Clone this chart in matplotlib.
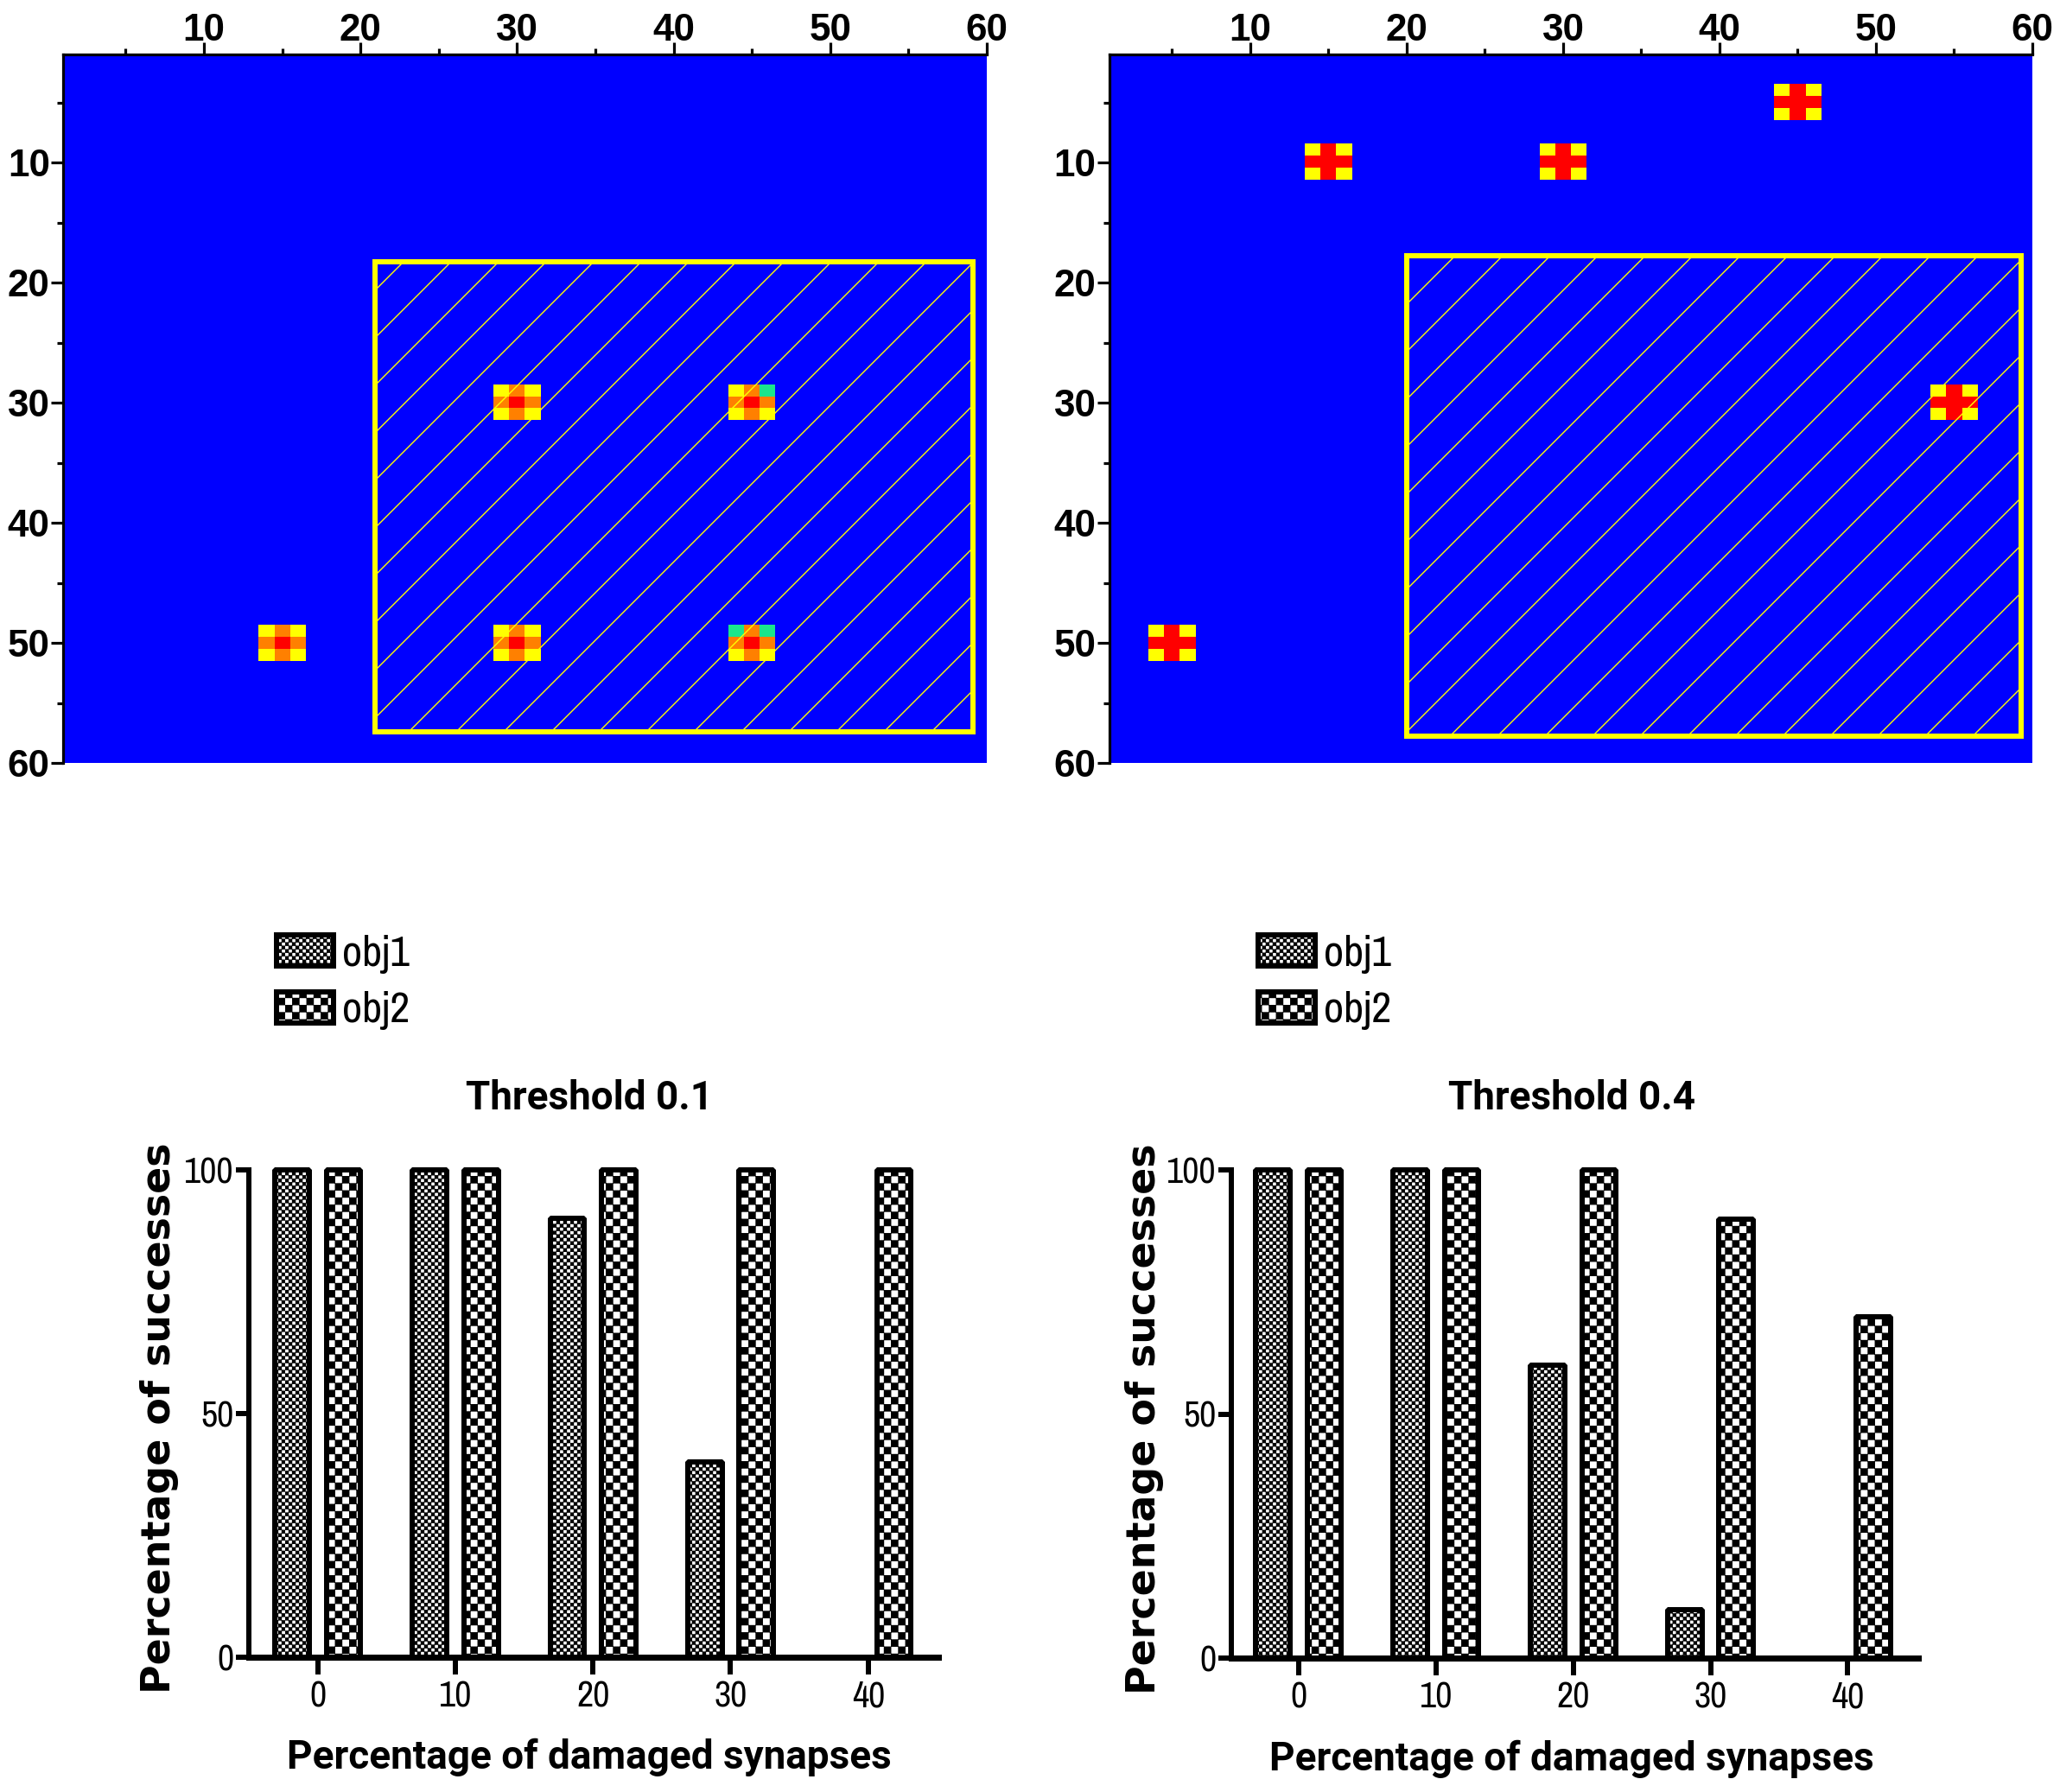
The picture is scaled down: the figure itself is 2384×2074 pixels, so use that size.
import numpy as np
import matplotlib
matplotlib.use('Agg')
import matplotlib.pyplot as plt
from matplotlib import hatch as mhatch
from matplotlib.colors import ListedColormap
from matplotlib.patches import Rectangle

# heat maps: (x, y) of the spots on the 60x60 grid
left_spots = [(15, 50), (30, 30), (45, 30), (30, 50), (45, 50)]
right_spots = [(45, 5), (15, 10), (30, 10), (55, 30), (5, 50)]
left_teal_cells = [(46, 29), (44, 49), (46, 49)]
left_rect = (20.9, 18.3, 59.1, 57.4)   # x0, y0, x1, y1
right_rect = (20.0, 17.8, 59.3, 57.8)

map_ticks = [10, 20, 30, 40, 50, 60]
map_minor = [5, 15, 25, 35, 45, 55]

# bar charts
damage = [0, 10, 20, 30, 40]
left_obj1 = [100, 100, 90, 40, 0]
left_obj2 = [100, 100, 100, 100, 100]
right_obj1 = [100, 100, 60, 10, 0]
right_obj2 = [100, 100, 100, 90, 70]
pct_ticks = [0, 50, 100]

W, H = 2384, 2074
DPI = 330   # hatch tile is one inch, '//' then gives the 55px line spacing
px = 72 / DPI

plt.rcParams['font.family'] = ['Liberation Sans', 'DejaVu Sans']
plt.rcParams['hatch.linewidth'] = 1.4 * px

narrow = dict(family=['Archivo Narrow', 'Roboto', 'Liberation Sans'], stretch='condensed')
narrow_bold = dict(family=['Roboto', 'Liberation Sans'], stretch='condensed', fontweight='bold')


class CheckerHatch(mhatch.HatchPatternBase):
    # 'o' = fine checker, 'O' = coarse checker
    def __init__(self, hatch, density):
        self.cells = hatch.count('o') * 82 + hatch.count('O') * 40
        self.num_vertices = 5 * sum((i + j) % 2 == 0 for i in range(self.cells) for j in range(self.cells))
        self.filled = True

    def set_vertices_and_codes(self, vertices, codes):
        if not self.cells:
            return
        s = 1.0 / self.cells
        d = 0.5 / DPI   # the hatch stroke grows each square a little
        k = 0
        for i in range(self.cells):
            for j in range(self.cells):
                if (i + j) % 2 == 0:
                    x, y = i * s, j * s
                    vertices[k:k + 5] = [(x + d, y + d), (x + s - d, y + d), (x + s - d, y + s - d),
                                         (x + d, y + s - d), (x + d, y + d)]
                    codes[k:k + 5] = [1, 2, 2, 2, 79]
                    k += 5


mhatch._hatch_types[:] = [mhatch.NorthEastHatch, CheckerHatch]


def px_axes(fig, l, t, r, b):
    return fig.add_axes([l / W, 1 - b / H, (r - l) / W, (b - t) / H])


def make_grid(spots, cross, teal=()):
    # 0 blue, 1 teal, 2 yellow, 3 orange, 4 red
    grid = np.zeros((60, 60), dtype=int)
    for x, y in spots:
        grid[y - 2:y + 1, x - 2:x + 1] = 2
        mid = 4 if cross else 3
        grid[y - 1, x - 2:x + 1] = mid
        grid[y - 2:y + 1, x - 1] = mid
        grid[y - 1, x - 1] = 4
    for x, y in teal:
        grid[y - 1, x - 1] = 1
    return grid


map_cmap = ListedColormap(['#0000ff', '#1ae68c', '#ffff00', '#ff8000', '#ff0000'])


def draw_map(ax, grid, rect):
    ax.imshow(grid, cmap=map_cmap, vmin=0, vmax=4, extent=(0.5, 60.5, 60.5, 0.5),
              aspect='auto', interpolation='nearest')
    ax.set_xlim(1, 60)
    ax.set_ylim(60, 1)
    x0, y0, x1, y1 = rect
    ax.add_patch(Rectangle((x0, y0), x1 - x0, y1 - y0, fill=False, edgecolor='#ffff00',
                           linewidth=6 * px, hatch='//', zorder=3))
    ax.xaxis.tick_top()
    ax.set_xticks(map_ticks)
    ax.set_yticks(map_ticks)
    ax.set_xticks(map_minor, minor=True)
    ax.set_yticks(map_minor, minor=True)
    ax.tick_params(which='major', length=14 * px, width=3.2 * px, labelsize=9.6)
    ax.tick_params(which='minor', length=7 * px, width=3.2 * px)
    ax.tick_params(axis='x', which='major', pad=-1.5)
    ax.tick_params(axis='y', which='major', pad=0.3)
    for lab in ax.get_xticklabels() + ax.get_yticklabels():
        lab.set_fontweight('bold')
    for name in ['right', 'bottom']:
        ax.spines[name].set_visible(False)
    for name in ['left', 'top']:
        ax.spines[name].set_linewidth(3.2 * px)


def draw_bars(fig, ax, obj1, obj2, title, legend_xy, label_x, ylabel_x):
    xs = np.array(damage)
    b1 = ax.bar(xs - 1.87, obj1, 2.5, facecolor='white', edgecolor='black', linewidth=6 * px,
                hatch='o', label='obj1', joinstyle='bevel', clip_on=False)
    b2 = ax.bar(xs + 1.87, obj2, 2.5, facecolor='white', edgecolor='black', linewidth=6 * px,
                hatch='O', label='obj2', joinstyle='bevel', clip_on=False)
    ax.set_ylim(0, 100)
    ax.set_xticks(damage)
    ax.set_yticks(pct_ticks)
    ax.tick_params(width=6 * px, labelsize=9.2)
    ax.tick_params(axis='x', length=20 * px, pad=1.5)
    ax.tick_params(axis='y', length=15 * px, pad=0.6)
    for lab in ax.get_xticklabels() + ax.get_yticklabels():
        lab.set(**narrow)
    ax.spines['left'].set_linewidth(6 * px)
    ax.spines['bottom'].set_linewidth(7 * px)
    ax.spines['right'].set_visible(False)
    ax.spines['top'].set_visible(False)
    ax.set_title(title, x=label_x, pad=70 * px, fontsize=10, **narrow_bold)
    ax.set_xlabel('Percentage of damaged synapses', fontsize=10, **narrow_bold)
    ax.xaxis.set_label_coords(label_x, -0.167)
    ax.set_ylabel('Percentage of successes', fontsize=10, fontweight='bold', family='DejaVu Sans')
    ax.yaxis.set_label_coords(ylabel_x, 0.49)
    ax.legend(handles=[b1, b2], loc='upper left', bbox_to_anchor=(legend_xy[0] / W, 1 - legend_xy[1] / H),
              bbox_transform=fig.transFigure, frameon=False, borderpad=0, borderaxespad=0,
              handlelength=1.3, handleheight=0.72, handletextpad=0.2, labelspacing=0.4,
              prop=dict(size=11, **narrow))


fig = plt.figure(figsize=(W / DPI, H / DPI), dpi=DPI)

ax1 = px_axes(fig, 73, 63, 1142, 883)
draw_map(ax1, make_grid(left_spots, False, left_teal_cells), left_rect)
ax2 = px_axes(fig, 1284, 63, 2352, 883)
draw_map(ax2, make_grid(right_spots, True), right_rect)

ax3 = px_axes(fig, 288, 1354, 1086, 1918)
ax3.set_xlim(-5, 45.1)
draw_bars(fig, ax3, left_obj1, left_obj2, 'Threshold 0.1', (320, 1082), 0.494, -0.102)
ax4 = px_axes(fig, 1425, 1354, 2220, 1919)
ax4.set_xlim(-4.9, 45.13)
draw_bars(fig, ax4, right_obj1, right_obj2, 'Threshold 0.4', (1456, 1082), 0.495, -0.098)

fig.savefig('out.png', dpi=DPI)
